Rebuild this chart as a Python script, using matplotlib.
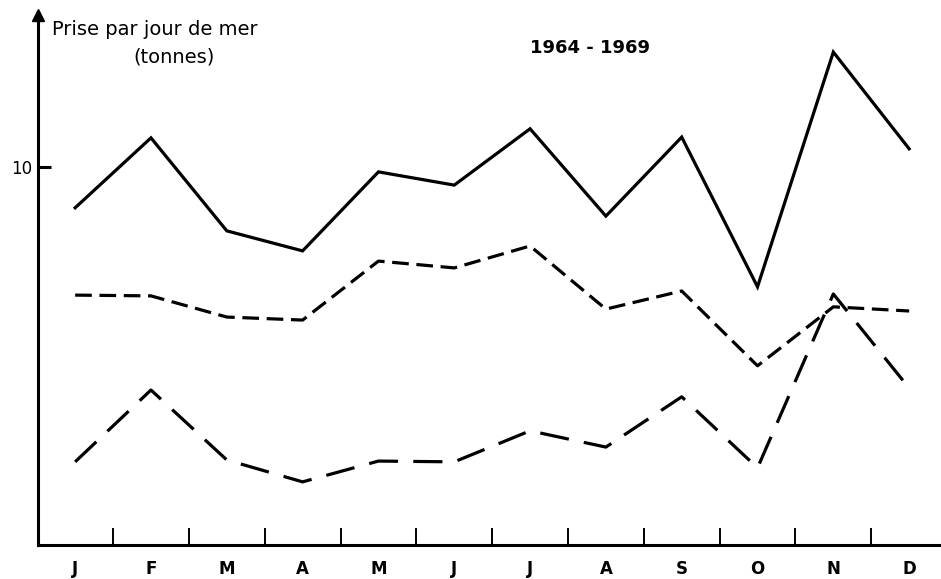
import matplotlib
matplotlib.use("Agg")
import matplotlib.pyplot as plt
import numpy as np

# Prise par jour de mer (tonnes), 1964-1969
months = ["J", "F", "M", "A", "M", "J", "J", "A", "S", "O", "N", "D"]
serie_pleine = [8.92, 10.77, 8.31, 7.78, 9.87, 9.52, 11.01, 8.70, 10.79, 6.83, 13.04, 10.48]
serie_tirets = [6.61, 6.59, 6.03, 5.95, 7.51, 7.33, 7.91, 6.24, 6.72, 4.74, 6.30, 6.19]
serie_longs = [2.20, 4.10, 2.25, 1.67, 2.22, 2.20, 3.02, 2.59, 3.92, 2.04, 6.64, 4.15]
yticks = [10]

plt.rcParams["lines.scale_dashes"] = False
plt.rcParams["font.family"] = "DejaVu Sans"

fig = plt.figure(figsize=(9.41, 5.79), dpi=100)
ax = fig.add_axes([38 / 941, 34 / 579, 903 / 941, 530 / 579])

x = np.arange(len(months))
ax.plot(x, serie_pleine, color="black", linewidth=2.3, solid_joinstyle="miter")
ax.plot(x, serie_tirets, color="black", linewidth=2.3, dashes=(12, 5.5),
        dash_capstyle="butt")
ax.plot(x, serie_longs, color="black", linewidth=2.3, dashes=(21, 11),
        dash_capstyle="butt")

ax.set_xlim(-0.49, 11.42)
ax.set_ylim(0, 14.02)

for side in ["top", "right"]:
    ax.spines[side].set_visible(False)
ax.spines["left"].set_linewidth(2.2)
ax.spines["bottom"].set_linewidth(2.2)

# arrow head on the y axis
ax.plot(0, 1.0, marker="^", color="black", markersize=8,
        transform=ax.transAxes, clip_on=False)

ax.set_xticks(x)
ax.set_xticklabels(months, fontsize=12, fontweight="bold")
ax.set_xticks(x[:-1] + 0.5, minor=True)
ax.tick_params(axis="x", which="major", length=0, pad=11)
ax.tick_params(axis="x", which="minor", direction="in", length=12, width=1.4)

ax.set_yticks(yticks)
ax.set_yticklabels([str(v) for v in yticks], fontsize=12)
ax.tick_params(axis="y", direction="in", length=9, width=2.2, pad=4)

ax.text(0.015, 0.972, "Prise par jour de mer", transform=ax.transAxes,
        fontsize=14, ha="left", va="center")
ax.text(0.151, 0.921, "(tonnes)", transform=ax.transAxes,
        fontsize=14, ha="center", va="center")
ax.text(0.611, 0.938, "1964 - 1969", transform=ax.transAxes,
        fontsize=13, fontweight="bold", ha="center", va="center")

fig.savefig("out.png", dpi=100)
